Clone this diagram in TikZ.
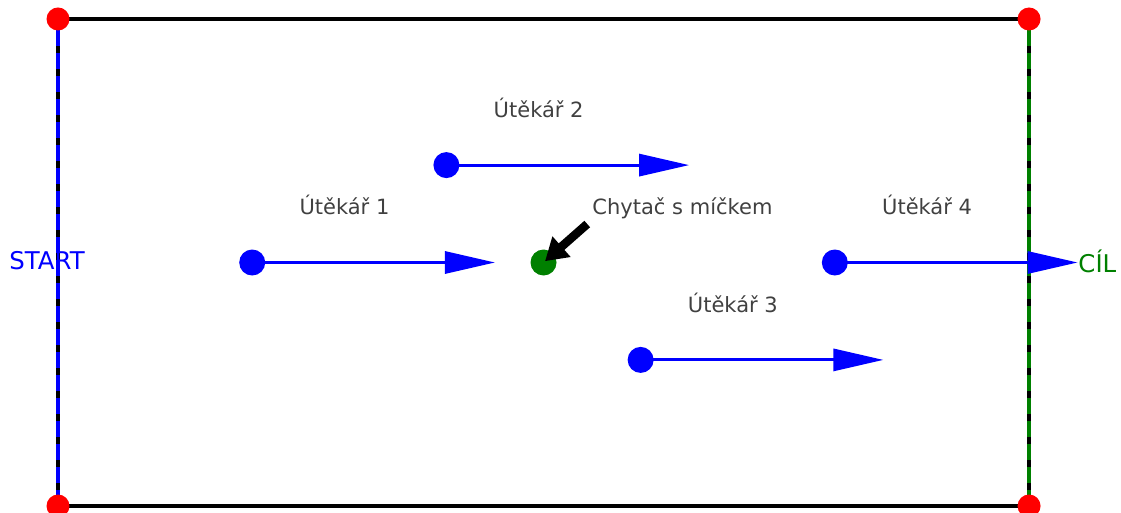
\documentclass[tikz,border=0pt]{standalone}
\usepackage{fontspec}
\setmainfont{DejaVu Sans}
\usetikzlibrary{arrows.meta}
\definecolor{mplgreen}{HTML}{008000}
\definecolor{labelgray}{HTML}{404040}

\begin{document}
\begin{tikzpicture}[x=4.855pt,y=4.87pt,
    corner/.style={circle,fill=red,inner sep=0pt,minimum size=11.5pt},
    player/.style={circle,fill=#1,inner sep=0pt,minimum size=13pt},
    runarrow/.style={blue,line width=1.5pt,-{Triangle[length=25pt,width=11pt]}},
    tag/.style={text=labelgray,font=\fontsize{10.5}{12}\selectfont,inner sep=0pt}]
  \useasboundingbox (-5.973,-0.616) rectangle (109.47,51.95);

  % field
  \coordinate (sw) at (0,0);
  \coordinate (se) at (100,0);
  \coordinate (ne) at (100,50);
  \coordinate (nw) at (0,50);
  \draw[line width=1.75pt] (sw) -- (se) -- (ne) -- (nw) -- cycle;
  \draw[blue,line width=1.6pt,dash pattern=on 8pt off 3.5pt] (sw) -- (nw);
  \draw[mplgreen,line width=1.6pt,dash pattern=on 8pt off 3.5pt] (se) -- (ne);
  \foreach \c in {sw,se,ne,nw}
    \node[corner] (\c dot) at (\c) {};

  % runners
  \foreach \i/\x/\y in {1/20/25,2/40/35,3/60/15,4/80/25} {
    \coordinate (e\i) at (\x+25,\y);
    \draw[runarrow] (\x,\y) -- (e\i);
    \node[player=blue] (r\i) at (\x,\y) {};
    \node[tag] (l\i) at (\x+9.5,\y+5.9) {Útěkář \i};
  }

  % catcher
  \node[player=mplgreen] (catcher) at (50,25) {};
  \coordinate (hint) at (54.5,28.95);
  \draw[line width=4.3pt,-{Triangle[length=11pt,width=13pt]},shorten >=1pt] (hint) -- (catcher.center);
  \node[tag,anchor=west] (ctag) at (55,30.6) {Chytač s míčkem};

  \node[text=blue,font=\fontsize{12.2}{14}\selectfont,inner sep=0pt] (start) at (-1.13,25.15) {START};
  \node[text=mplgreen,font=\fontsize{12.2}{14}\selectfont,inner sep=0pt,anchor=west] (goal) at (105.05,25.15) {CÍL};
\end{tikzpicture}
\end{document}
